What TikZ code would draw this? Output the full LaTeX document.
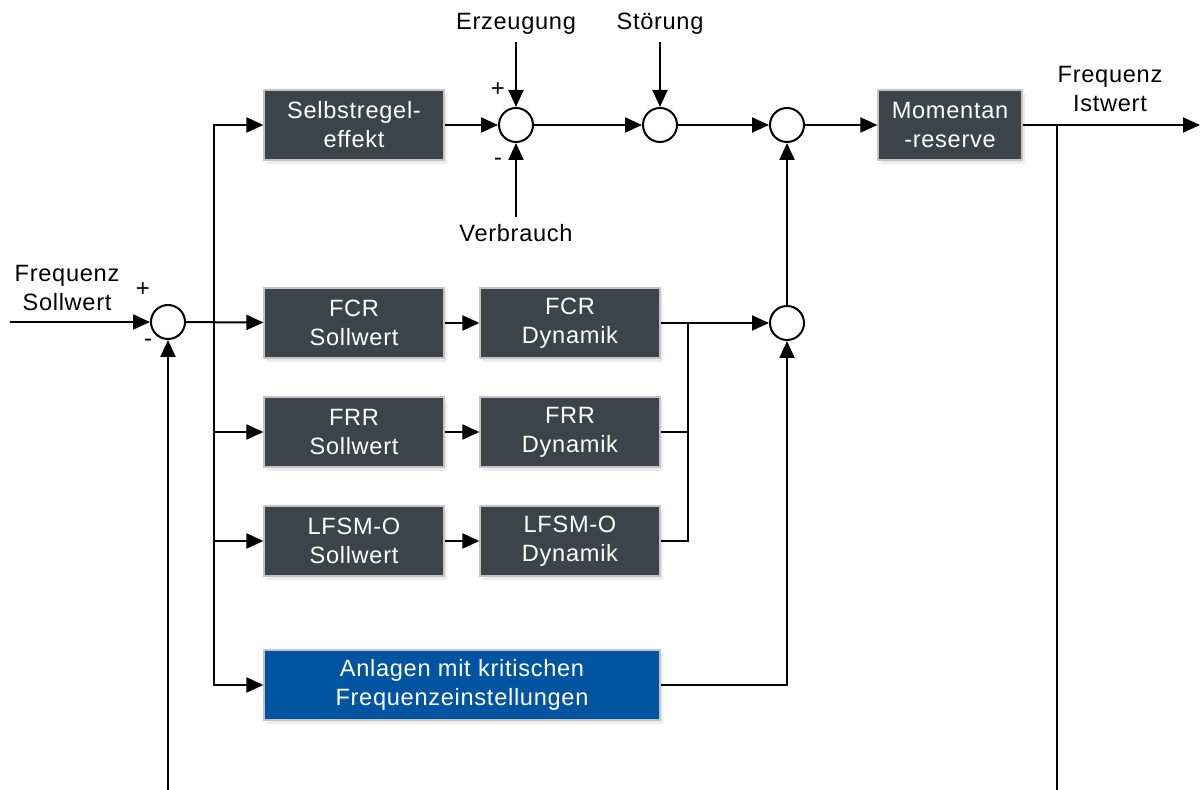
\documentclass[tikz,border=0pt]{standalone}
\usepackage{fontspec}
\setmainfont[LetterSpace=3]{Liberation Sans}
\usetikzlibrary{arrows.meta,shadows}

\definecolor{boxgray}{HTML}{3D434B}
\definecolor{boxblue}{HTML}{0054A0}
\definecolor{boxedge}{HTML}{C4C4C4}

\tikzset{
  block/.style={rectangle,draw=boxedge,line width=0.6pt,fill=boxgray,text=white,
    minimum width=90pt,minimum height=35pt,align=center,
    font=\fontsize{11.8}{14.5}\selectfont,
    drop shadow={opacity=0.15,shadow xshift=1.5pt,shadow yshift=-2pt}},
  sum/.style={circle,draw,line width=1pt,fill=white,minimum size=17pt,inner sep=0pt},
  lbl/.style={align=center,font=\fontsize{11.8}{14.5}\selectfont},
  sign/.style={font=\fontsize{12}{12}\selectfont,inner sep=0pt},
  arr/.style={-{Triangle[length=8.5pt,width=7.5pt]}}
}

\begin{document}
\begin{tikzpicture}[x=0.5pt,y=-0.5pt,line width=1pt,node distance=108pt]
    \useasboundingbox (0,0) rectangle (1200,790);

    % obere Kette
    \node[block] (selbst) at (354,125) {Selbstregel-\\effekt};
    \node[sum] (s1) at (516,125) {};
    \node[sum] (s2) at (660,125) {};
    \node[sum] (s3) at (787,125) {};
    \node[block,minimum width=72pt] (moment) at (950,125) {Momentan\\-reserve};

    % Reserven
    \node[block] (fcrsoll) at (354,323) {FCR\\Sollwert};
    \node[block] (fcrdyn) [right of=fcrsoll] {FCR\\Dynamik};
    \node[block] (frrsoll) at (354,432) {FRR\\Sollwert};
    \node[block] (frrdyn) [right of=frrsoll] {FRR\\Dynamik};
    \node[block] (lfsmsoll) at (354,541) {LFSM-O\\Sollwert};
    \node[block] (lfsmdyn) [right of=lfsmsoll] {LFSM-O\\Dynamik};
    \node[block,fill=boxblue,minimum width=198pt] (anlagen) at (462,685) {Anlagen mit kritischen\\Frequenzeinstellungen};
    \node[sum] (s4) at (787,323) {};
    \node[sum] (s0) at (168,322) {};

    % Beschriftungen
    \node[lbl] (erz) at (516,24) {Erzeugung};
    \node[lbl] (stoer) at (660,24) {Störung};
    \node[lbl] (verb) at (516,233) {Verbrauch};
    \node[lbl] (soll) at (67,288) {Frequenz\\Sollwert};
    \node[lbl] (ist) at (1110,89) {Frequenz\\Istwert};
    \node[sign] (p1) at (498,90) {+};
    \node[sign] (m1) at (498,162) {-};
    \node[sign] (p0) at (143,290) {+};
    \node[sign] (m0) at (148,343) {-};

    \coordinate (in) at (10,322);
    \coordinate (split) at (214,322);
    \coordinate (out) at (1200,125);
    \coordinate (fb) at (1057,125);
    \coordinate (fbend) at (1057,790);
    \coordinate (fbin) at (168,790);
    \coordinate (merge) at (688,323);

    \draw[arr] (in) -- (s0);
    \draw[arr] (fbin) -- (s0);
    \draw[arr] (s0) -- (fcrsoll);
    \draw[arr] (split) |- (selbst);
    \draw[arr] (split) |- (frrsoll);
    \draw[arr] (split) |- (lfsmsoll);
    \draw[arr] (split) |- (anlagen);

    \draw[arr] (selbst) -- (s1);
    \draw[arr] (s1) -- (s2);
    \draw[arr] (s2) -- (s3);
    \draw[arr] (s3) -- (moment);
    \draw[arr] (moment) -- (out);
    \draw (fb) -- (fbend);
    \draw[arr] (erz) -- (s1);
    \draw[arr] (verb) -- (s1);
    \draw[arr] (stoer) -- (s2);

    \draw[arr] (fcrsoll) -- (fcrdyn);
    \draw[arr] (frrsoll) -- (frrdyn);
    \draw[arr] (lfsmsoll) -- (lfsmdyn);
    \draw[arr] (fcrdyn) -- (s4);
    \draw (frrdyn.east) -| (merge);
    \draw (lfsmdyn.east) -| (merge);
    \draw[arr] (s4) -- (s3);
    \draw[arr] (anlagen) -| (s4);
\end{tikzpicture}
\end{document}
